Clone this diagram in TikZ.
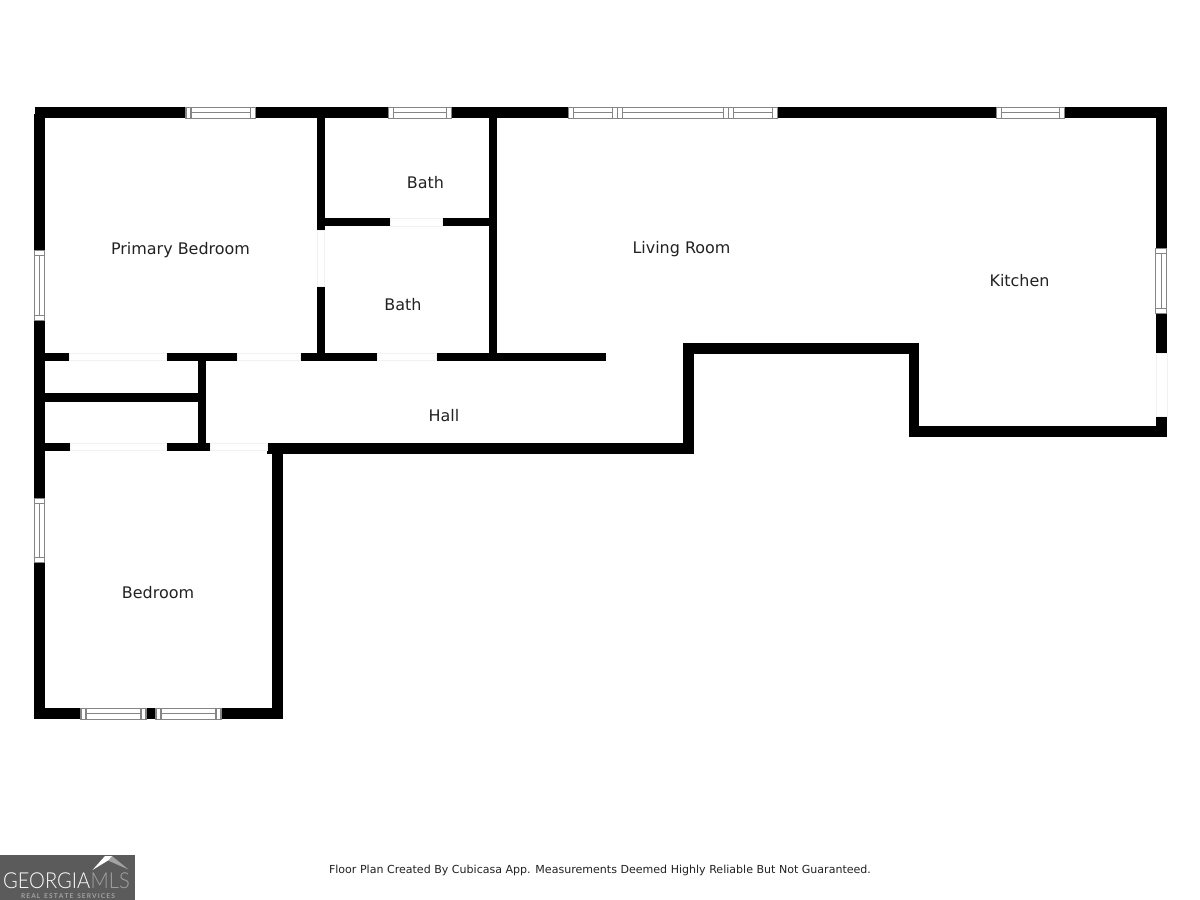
\documentclass[tikz,border=0pt]{standalone}
\usepackage{graphicx}
\usepackage{fontspec}
\setmainfont{DejaVu Sans}
\newfontfamily\logofont{Lato Light}
\newfontfamily\logobold{Lato}
\definecolor{wingray}{HTML}{858585}
\definecolor{doorline}{HTML}{F1F1F1}
\definecolor{labelink}{HTML}{222222}
\definecolor{logobg}{HTML}{5B5B5B}
\definecolor{logomls}{HTML}{A3A3A3}
\tikzset{
  wall/.style={fill=black,draw=none},
  glass/.style={fill=white,draw=wingray,line width=1.1pt},
  pane/.style={draw=wingray,line width=1.1pt},
  doorgap/.style={fill=white,draw=doorline,line width=0.8pt},
  roomlabel/.style={font=\fontsize{15.95}{18}\selectfont,text=labelink,inner sep=0pt},
  footnote/.style={font=\fontsize{11.05}{13}\selectfont,text=labelink,inner sep=0pt},
  logotext/.style={inner sep=0pt,anchor=base west,font=\logofont\fontsize{22}{22}\selectfont}
}
% rectangle helpers, in reference pixels
\newcommand{\wl}[4]{\path[wall] (#1,#2) rectangle (#3,#4);}
\newcommand{\dg}[4]{\path[doorgap] (#1,#2) rectangle (#3,#4);}
% horizontal window: x1,x2,y1,y2
\newcommand{\winh}[4]{%
  \path[glass] (#1,#3) rectangle (#2,#4);
  \draw[pane] ({#1+5},#3) -- ({#1+5},#4);
  \draw[pane] ({#2-5},#3) -- ({#2-5},#4);
  \draw[pane] ({#1+5},{(#3+#4)/2}) -- ({#2-5},{(#3+#4)/2});}
% vertical window: x1,x2,y1,y2
\newcommand{\winv}[4]{%
  \path[glass] (#1,#3) rectangle (#2,#4);
  \draw[pane] (#1,{#3+5}) -- (#2,{#3+5});
  \draw[pane] (#1,{#4-5}) -- (#2,{#4-5});
  \draw[pane] ({(#1+#2)/2},{#3+5}) -- ({(#1+#2)/2},{#4-5});}
\begin{document}
\begin{tikzpicture}[x=1pt,y=-1pt]
\useasboundingbox (0,0) rectangle (1200,900);
\fill[white] (0,0) rectangle (1200,900);
% outer walls
\wl{35}{107.3}{1166.7}{118.4}
\wl{34}{114}{45}{719.4}
\wl{1155.7}{107.3}{1166.7}{436.7}
\wl{909}{425.7}{1166.7}{436.7}
\wl{908.7}{342.8}{919.4}{436.7}
\wl{682.7}{342.8}{919.4}{354}
\wl{682.7}{342.8}{694}{454}
\wl{267.3}{443.3}{694}{454}
\wl{271.7}{443.3}{282.7}{719.4}
\wl{34}{708.3}{282.7}{719.4}
% inner walls
\wl{316.8}{118}{324.8}{230.7}
\wl{316.8}{286}{324.8}{357}
\wl{489}{118}{496.8}{357}
\wl{324}{218.3}{390}{226.3}
\wl{442.7}{218.3}{490}{226.3}
\wl{45}{353.3}{69}{361}
\wl{166}{353.3}{237.3}{361}
\wl{300}{353.3}{377.7}{361}
\wl{436.7}{353.3}{606}{361}
\wl{197.8}{353.3}{205.8}{447}
\wl{45}{393.4}{205}{401.7}
\wl{45}{442.7}{70}{450.7}
\wl{166.7}{442.7}{210.3}{450.7}
% door openings
\dg{69}{353.6}{166}{360.8}
\dg{237.3}{353.6}{300}{360.8}
\dg{377.7}{353.6}{436.7}{360.8}
\dg{70}{443}{166.7}{450.5}
\dg{210.3}{443}{267.3}{450.5}
\dg{390}{218.6}{442.7}{226}
\dg{317}{230.7}{324.6}{286}
\dg{1156}{353.3}{1166.9}{416.7}
% windows
\winh{186}{255.5}{107.5}{118.3}
\winh{388.8}{451.7}{107.5}{118.3}
\winh{568.3}{617.3}{107.5}{118.3}
\winh{617.3}{728.3}{107.5}{118.3}
\winh{728.3}{777.7}{107.5}{118.3}
\winh{996.7}{1064.3}{107.5}{118.3}
\winh{81}{146}{708.5}{719.2}
\winh{156}{221}{708.5}{719.2}
\winv{34.2}{44.8}{250.7}{320.7}
\winv{34.2}{44.8}{498.3}{562.7}
\winv{1155.9}{1166.5}{248.3}{313.3}
% labels
\node[roomlabel] (primary) at (180.5,250) {Primary Bedroom};
\node[roomlabel] (bathup) at (425.5,182.5) {Bath};
\node[roomlabel] (bathlow) at (403,304.5) {Bath};
\node[roomlabel] (living) at (681.5,249) {Living Room};
\node[roomlabel] (kitchen) at (1019.5,280.5) {Kitchen};
\node[roomlabel] (hall) at (444,415.5) {Hall};
\node[roomlabel] (bedroom) at (158,593) {Bedroom};
\node[footnote] (credit) at (600,870) {Floor Plan Created By Cubicasa App. Measurements Deemed Highly Reliable But Not Guaranteed.};
% logo
\fill[logobg] (0,855) rectangle (134.7,900);
\fill[logomls] (106,856) -- (112,856) -- (128.5,869.5) -- (108,860.5) -- cycle;
\fill[white] (92.5,870) -- (105,856) -- (112,856) -- (108,860.5) -- cycle;
\node[logotext,text=white] (logoa) at (3,888.5) {\scalebox{0.91}[1]{GEORGIA}};
\node[logotext,text=logomls] (logob) at (90.5,888.5) {\scalebox{0.91}[1]{MLS}};
\node[inner sep=0pt,anchor=base,text=logomls,font=\logobold\bfseries\fontsize{6.6}{7}\selectfont] (logoc) at (68,898) {R\,E\,A\,L\, \,E\,S\,T\,A\,T\,E\, \,S\,E\,R\,V\,I\,C\,E\,S};
\end{tikzpicture}
\end{document}
